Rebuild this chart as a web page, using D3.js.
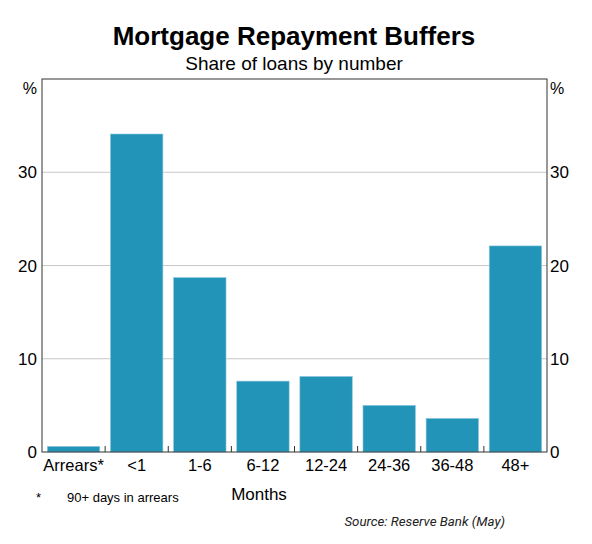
<!DOCTYPE html>
<html>
<head>
<meta charset="utf-8">
<script src="https://cdn.jsdelivr.net/npm/d3@7"></script>
<style>
  body { margin: 0; background: #fff; }
  text { font-family: "Liberation Sans", Arial, sans-serif; fill: #000; }
</style>
</head>
<body>
<div class="container"></div>
<script>
// categories and values (share of loans, %)
var categories = ["Arrears*", "<1", "1-6", "6-12", "12-24", "24-36", "36-48", "48+"];
var shares = [0.6, 34.1, 18.7, 7.6, 8.1, 5.0, 3.6, 22.1];
var yTicks = [0, 10, 20, 30];

var width = 592, height = 544;
var plotLeft = 42, plotRight = 547, plotTop = 79, plotBottom = 452;

var svg = d3.select('.container')
    .append('svg').attr('width', width).attr('height', height);

var x = d3.scaleBand().domain(categories).range([plotLeft, plotRight]).paddingInner(0.17).paddingOuter(0.085);
var y = d3.scaleLinear().domain([0, 40]).range([plotBottom, plotTop]);

// gridlines
svg.selectAll('line.grid').data(yTicks.slice(1)).enter().append('line')
    .attr('x1', plotLeft).attr('x2', plotRight)
    .attr('y1', function(d) { return y(d); })
    .attr('y2', function(d) { return y(d); })
    .style('stroke', '#c8c8c8').style('stroke-width', 1);

// bars
svg.selectAll('rect.bar').data(shares).enter().append('rect')
    .attr('x', function(d, i) { return x(categories[i]); })
    .attr('y', function(d) { return y(d); })
    .attr('width', x.bandwidth())
    .attr('height', function(d) { return y(0) - y(d); })
    .style('fill', '#2194b8')
    .style('stroke', '#8cc6dc').style('stroke-width', 0.6);

// frame
svg.append('rect').attr('x', plotLeft).attr('y', plotTop)
    .attr('width', plotRight - plotLeft).attr('height', plotBottom - plotTop)
    .style('fill', 'none').style('stroke', '#333').style('stroke-width', 1);

// category separators on the base
var step = x.step();
svg.selectAll('line.sep').data(categories.slice(1)).enter().append('line')
    .attr('x1', function(d) { return x(d) - step * 0.085; })
    .attr('x2', function(d) { return x(d) - step * 0.085; })
    .attr('y1', plotBottom).attr('y2', plotBottom - 6)
    .style('stroke', '#333').style('stroke-width', 1);

// y tick labels both sides
svg.selectAll('text.yl').data(yTicks).enter().append('text')
    .attr('x', plotLeft - 5).attr('y', function(d) { return y(d) + 6; })
    .attr('text-anchor', 'end').style('font-size', '17px')
    .text(function(d) { return d; });
svg.selectAll('text.yr').data(yTicks).enter().append('text')
    .attr('x', plotRight + 3).attr('y', function(d) { return y(d) + 6; })
    .style('font-size', '17px')
    .text(function(d) { return d; });
svg.append('text').attr('x', plotLeft - 5).attr('y', plotTop + 15)
    .attr('text-anchor', 'end').style('font-size', '16px').text('%');
svg.append('text').attr('x', plotRight + 3).attr('y', plotTop + 15)
    .style('font-size', '16px').text('%');

// x labels
svg.selectAll('text.xl').data(categories).enter().append('text')
    .attr('x', function(d) { return x(d) + x.bandwidth() / 2; })
    .attr('y', plotBottom + 19)
    .attr('text-anchor', 'middle').style('font-size', '16.5px')
    .text(function(d) { return d; });

svg.append('text').attr('x', 259).attr('y', 500)
    .attr('text-anchor', 'middle').style('font-size', '17px').text('Months');

// titles
svg.append('text').attr('x', 294).attr('y', 45)
    .attr('text-anchor', 'middle').style('font-size', '26px').style('font-weight', 'bold')
    .text('Mortgage Repayment Buffers');
svg.append('text').attr('x', 294).attr('y', 70)
    .attr('text-anchor', 'middle').style('font-size', '19px')
    .text('Share of loans by number');

// footnote and source
svg.append('text').attr('x', 36).attr('y', 502).style('font-size', '13px').text('*');
svg.append('text').attr('x', 67).attr('y', 502).style('font-size', '13px').text('90+ days in arrears');
svg.append('text').attr('x', 505).attr('y', 526)
    .attr('text-anchor', 'end').style('font-size', '13.3px').style('font-style', 'italic')
    .style('font-family', 'Roboto, sans-serif').style('fill', '#222')
    .text('Source: Reserve Bank (May)');
</script>
</body>
</html>
